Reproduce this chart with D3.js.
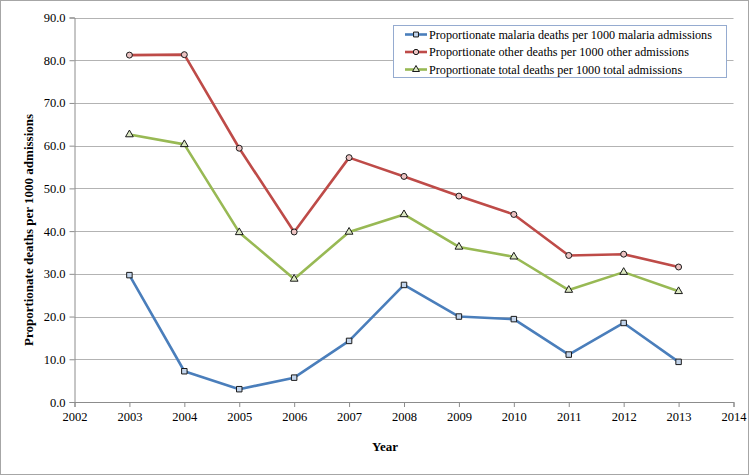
<!DOCTYPE html>
<html><head><meta charset="utf-8">
<script src="https://cdn.jsdelivr.net/npm/d3@7"></script>
<style>
html,body{margin:0;padding:0;background:#fff;}
svg{display:block;}
svg text{font-family:"Liberation Serif","Times New Roman",serif !important;fill:#000;}
</style></head>
<body>
<svg id="chart" width="749" height="475"></svg>
<script>
const years = [2003,2004,2005,2006,2007,2008,2009,2010,2011,2012,2013];
const malaria = [29.7,7.2,3.0,5.7,14.3,27.4,20.0,19.4,11.1,18.5,9.4];
const other = [81.2,81.3,59.4,39.8,57.2,52.8,48.2,43.9,34.3,34.6,31.6];
const total = [62.6,60.3,39.7,28.8,39.8,43.9,36.3,34.0,26.2,30.4,25.9];
const seriesNames = [
  "Proportionate malaria deaths per 1000 malaria admissions",
  "Proportionate other deaths per 1000 other admissions",
  "Proportionate total deaths per 1000 total admissions"
];
const xTicks = [2002,2003,2004,2005,2006,2007,2008,2009,2010,2011,2012,2013,2014];
const yTicks = [0,10,20,30,40,50,60,70,80,90];
const yTitle = "Proportionate deaths per 1000 admissions";
const xTitle = "Year";

const colors = ["#4A7EBB","#BE4B48","#98B954"];
const fills = ["#c3d5ec","#ecc3c2","#dde9c4"];
const shapes = [d3.symbolSquare, d3.symbolCircle, d3.symbolTriangle];
const sizes = [30, 28, 26];
const seriesVals = [malaria, other, total];
const SERIF = '"Liberation Serif","Times New Roman",serif';

const svg = d3.select("#chart");
svg.append("rect").attr("x",0.5).attr("y",0.5).attr("width",748).attr("height",474)
  .attr("fill","#fff").attr("stroke","#a6a6a6");

const x = d3.scaleLinear().domain([2002,2014]).range([74.5,733.5]);
const y = d3.scaleLinear().domain([0,90]).range([402,17.5]);

// gridlines
svg.append("g").selectAll("line").data(yTicks.filter(d=>d>0)).join("line")
  .attr("x1",x(2002)).attr("x2",x(2014))
  .attr("y1",d=>Math.round(y(d))+0.5).attr("y2",d=>Math.round(y(d))+0.5)
  .attr("stroke","#b3b3b3").attr("stroke-width",1);

// y axis
const yAxis = svg.append("g").attr("transform",`translate(${x(2002)},0)`)
  .call(d3.axisLeft(y).tickValues(yTicks).tickFormat(d3.format(".1f")).tickSize(5).tickPadding(4));
yAxis.attr("font-family",SERIF).attr("font-size",12.5);
yAxis.select(".domain").attr("stroke","#8c8c8c");
yAxis.selectAll(".tick line").attr("stroke","#8c8c8c");
yAxis.selectAll("text").style("font-family",SERIF).style("font-size","12.5px");

// x axis
const xAxis = svg.append("g").attr("transform",`translate(0,${y(0)})`)
  .call(d3.axisBottom(x).tickValues(xTicks).tickFormat(d3.format("d")).tickSize(5).tickPadding(5));
xAxis.attr("font-family",SERIF).attr("font-size",12.5);
xAxis.select(".domain").attr("stroke","#8c8c8c");
xAxis.selectAll(".tick line").attr("stroke","#8c8c8c");
xAxis.selectAll("text").style("font-family",SERIF).style("font-size","12.5px");

// axis titles
svg.append("text").attr("transform","translate(33,230) rotate(-90)")
  .attr("text-anchor","middle").attr("font-weight","bold").style("font-size","13px")
  .text(yTitle);
svg.append("text").attr("x",385).attr("y",451).attr("text-anchor","middle")
  .attr("font-weight","bold").style("font-size","13px").text(xTitle);

// lines
const line = d3.line().x((d,i)=>x(years[i])).y(d=>y(d));
seriesVals.forEach((vals,k)=>{
  svg.append("path").datum(vals).attr("d",line).attr("fill","none")
    .attr("stroke",colors[k]).attr("stroke-width",2.6).attr("stroke-linejoin","round");
});
seriesVals.forEach((vals,k)=>{
  svg.append("g").selectAll("path").data(vals).join("path")
    .attr("d",d3.symbol().type(shapes[k]).size(sizes[k]))
    .attr("transform",(d,i)=>`translate(${x(years[i])},${y(d)})`)
    .attr("fill",fills[k]).attr("stroke","#1a1a1a").attr("stroke-width",1);
});

// legend
const lg = svg.append("g");
lg.append("rect").attr("x",393.5).attr("y",25.5).attr("width",333).attr("height",52)
  .attr("fill","#fff").attr("stroke","#95abd0");
seriesNames.forEach((name,k)=>{
  const cy = 34.5 + k*17.5;
  lg.append("line").attr("x1",405).attr("x2",427).attr("y1",cy).attr("y2",cy)
    .attr("stroke",colors[k]).attr("stroke-width",2.6);
  lg.append("path").attr("d",d3.symbol().type(shapes[k]).size(sizes[k]*0.8))
    .attr("transform",`translate(416,${cy})`).attr("fill",fills[k]).attr("stroke","#1a1a1a").attr("stroke-width",1);
  lg.append("text").attr("x",429).attr("y",cy+4.3).style("font-size","12.2px").text(name);
});
</script>
</body></html>
